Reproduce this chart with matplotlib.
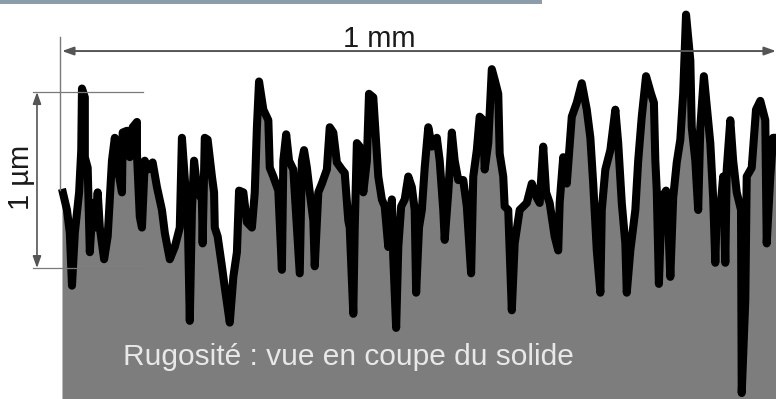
"""Roughness profile sketch: cross-section of a rough solid surface."""
import matplotlib
matplotlib.use("Agg")
import matplotlib.pyplot as plt

plt.rcParams["font.family"] = ["Liberation Sans", "DejaVu Sans"]

# profile: position along the surface (µm), height (nm)
pos_um = [0, 7, 11, 14, 18, 24, 27, 28, 32, 32, 36, 39, 43, 46, 50, 53, 59, 64, 70, 74,
          78, 84, 85, 91, 95, 99, 105, 105, 109, 112, 116, 120, 127, 133, 140, 144, 151, 158, 165, 168,
          174, 176, 179, 182, 185, 190, 196, 197, 200, 204, 210, 213, 214, 218, 224, 228, 235, 240, 245, 248,
          254, 259, 266, 270, 273, 276, 282, 289, 291, 296, 303, 308, 310, 314, 318, 324, 329, 333, 336, 339,
          343, 347, 352, 354, 359, 364, 371, 375, 380, 385, 392, 396, 401, 403, 408, 410, 413, 417, 422, 427,
          430, 436, 440, 443, 448, 452, 457, 462, 464, 468, 471, 475, 480, 485, 490, 494, 496, 500, 504, 508,
          513, 518, 525, 529, 534, 536, 541, 546, 550, 555, 562, 567, 573, 576, 581, 585, 590, 592, 597, 602,
          606, 611, 613, 618, 620, 625, 630, 634, 641, 651, 658, 665, 669, 674, 678, 683, 690, 695, 697, 702,
          707, 714, 721, 728, 735, 740, 744, 749, 754, 756, 761, 768, 775, 779, 784, 789, 791, 796, 803, 807,
          812, 818, 825, 829, 831, 833, 836, 840, 846, 849, 852, 856, 861, 866, 870, 874, 880, 882, 887, 891,
          894, 899, 905, 908, 912, 915, 917, 922, 926, 929, 931, 936, 940, 945, 951, 952, 957, 959, 966, 972,
          978, 985, 987, 992, 996, 1000]
height_nm = [450, 330, 200, -100, 200, 430, 670, 1020, 970, 630, 570, 90, 370, 230, 430, 230, 50, 180, 610, 740,
             570, 430, 770, 780, 630, 800, 830, 650, 290, 230, 610, 560, 600, 460, 330, 200, 50, 120, 230, 740,
             390, 330, -300, 330, 610, 430, 390, 140, 740, 730, 520, 430, 230, 180, 10, -110, -310, -50, 90, 440,
             430, 260, 230, 430, 800, 1060, 900, 840, 570, 520, 440, -10, 610, 760, 610, 560, 230, -30, 610, 670,
             570, 430, 270, 10, 430, 480, 560, 800, 770, 600, 560, 540, 270, 230, -260, 230, 710, 690, 430, 610,
             990, 970, 710, 520, 390, 350, 120, 390, 60, -340, 120, 350, 390, 520, 460, 330, -140, 230, 330, 570,
             800, 690, 740, 610, 330, 160, 430, 770, 610, 500, 500, 350, -30, 520, 670, 860, 840, 560, 710, 1130,
             1070, 990, 650, 520, 350, 330, -240, 140, 330, 370, 480, 400, 370, 690, 430, 370, 180, 100, 370, 630,
             480, 860, 940, 1050, 900, 740, 480, 100, -140, 330, 560, 670, 900, 710, 370, 140, -140, 100, 330, 610,
             860, 1090, 990, 940, 610, 440, -90, 400, 440, 260, -50, 400, 600, 730, 990, 1440, 1180, 800, 610, 330,
             800, 1090, 840, 710, 400, 30, 330, 330, 520, 30, 560, 840, 610, 430, 330, -710, -180, 520, 570, 900,
             950, 840, 140, 520, 740, 740]

# scale bars
length_um = 1000
scale_nm = 1000
length_label = "1 mm"
scale_label = "1 µm"
caption = "Rugosité : vue en coupe du solide"

X0, X1 = -86.8, 1000      # visible window, µm
Y0, Y1 = -744, 1523       # visible window, nm
SOLID = "#7d7d7d"
DIM = "#7a7a7a"

fig = plt.figure(figsize=(7.76, 3.99), dpi=100)
ax = fig.add_axes([0, 0, 1, 1])
ax.set_xlim(X0, X1)
ax.set_ylim(Y0, Y1)
ax.axis("off")

# header strip left over from the page
ax.fill_between([X0, 672], 1500, Y1, color="#8c9cab", lw=0)

# solid body + surface trace (thick, like the scanned trace)
ax.fill_between(pos_um, height_nm, Y0, color=SOLID, lw=0)
ax.plot(pos_um, height_nm, color="black", lw=5.8, solid_joinstyle="round",
        solid_capstyle="butt")
ax.set_xlim(X0, X1)

# horizontal dimension: 1 mm
ax.plot([-3, -3], [443, 1310], color=DIM, lw=1)
ax.annotate("", xy=(0, 1233), xytext=(length_um, 1233),
            arrowprops=dict(arrowstyle="<|-|>,head_length=0.7,head_width=0.25",
                            color="#555", lw=1.4, shrinkA=0, shrinkB=0,
                            mutation_scale=10))
ax.text(length_um * 0.445, 1300, length_label, fontsize=21, ha="center", va="center",
        color="#1a1a1a")

# vertical dimension: 1 µm
for h in (0, scale_nm):
    ax.plot([-40.6, 113.4], [h, h], color=DIM, lw=0.9)
ax.annotate("", xy=(-35, 0), xytext=(-35, scale_nm),
            arrowprops=dict(arrowstyle="<|-|>,head_length=0.7,head_width=0.25",
                            color="#555", lw=1.2, shrinkA=0, shrinkB=0,
                            mutation_scale=10))
ax.text(-57, 517, scale_label, fontsize=21, rotation=90, ha="center", va="center",
        color="#1a1a1a")

ax.text(85, -506, caption, fontsize=21.5, ha="left", va="center", color="#e8e8e8")

fig.savefig("out.png", dpi=100, facecolor="white")
plt.close(fig)
